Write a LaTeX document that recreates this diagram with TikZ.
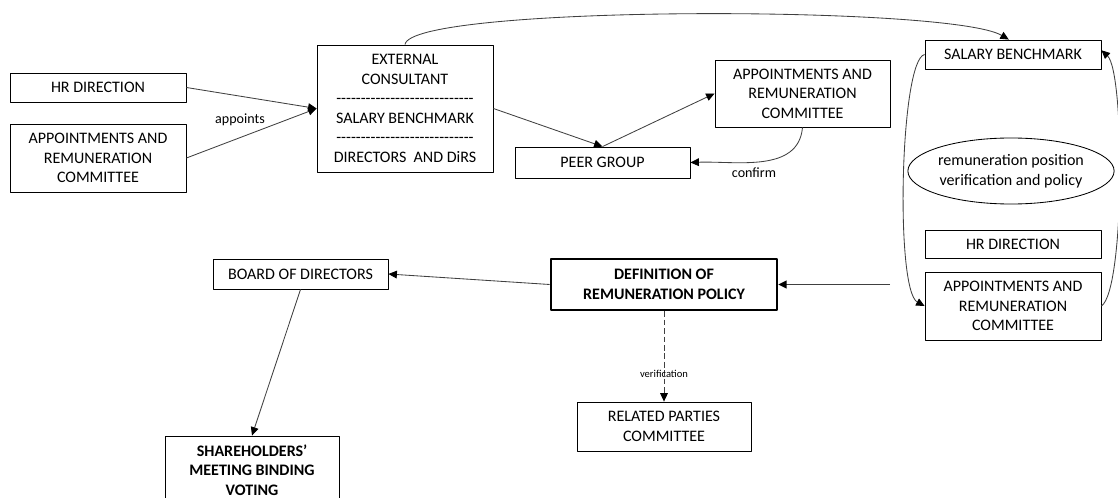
\documentclass[tikz,border=0pt]{standalone}
\usepackage{fontspec}
\setmainfont{Carlito}[Ligatures=TeXOff]
\usepackage{tikz}
\usetikzlibrary{arrows.meta,shapes.geometric}
\definecolor{lnc}{RGB}{64,64,64}

\begin{document}
\begin{tikzpicture}[x=0.025cm,y=-0.025cm,line join=round,
  box/.style={draw,line width=0.6pt,align=center,inner sep=0pt,minimum width=4.4cm,font=\fontsize{11.4}{13.9}\selectfont},
  arr/.style={draw=lnc,line width=0.6pt,-{Triangle[length=6pt,width=5.5pt,color=black]}},
  lbl/.style={font=\fontsize{10}{12}\selectfont}]
  \useasboundingbox (0,0) rectangle (1118,498);
  \node[box,minimum height=0.725cm] (hrL) at (98,87.5) {HR DIRECTION};
  \node[box,minimum height=1.7cm] (arcL) at (98,158) {APPOINTMENTS AND\\REMUNERATION\\COMMITTEE};
  \node[box,minimum height=3.175cm] (econ) at (405,108.5) {EXTERNAL\\CONSULTANT\\----------------------------\\SALARY BENCHMARK\\----------------------------\\DIRECTORS\ \ AND DiRS};
  \node[box,minimum width=4.375cm,minimum height=0.775cm] (peer) at (602.5,162.5) {PEER GROUP};
  \node[box,minimum width=4.375cm,minimum height=1.675cm] (arcM) at (802.5,93.5) {APPOINTMENTS AND\\REMUNERATION\\COMMITTEE};
  \node[box,minimum height=0.725cm] (salR) at (1013,54.5) {SALARY BENCHMARK};
  \node[draw,ellipse,line width=0.6pt,minimum width=4.5cm,minimum height=1.65cm,inner sep=0pt,align=center,font=\fontsize{11.4}{13.9}\selectfont] (pos) at (1011,171) {remuneration position\\verification and policy};
  \node[box,minimum height=0.7cm] (hrR) at (1013,244) {HR DIRECTION};
  \node[box,minimum height=1.7cm] (arcR) at (1013,306) {APPOINTMENTS AND\\REMUNERATION\\COMMITTEE};
  \node[box,line width=1.8pt,minimum width=5.65cm,minimum height=1.275cm,font=\fontsize{11.4}{13.9}\selectfont\bfseries] (def) at (664,284.5) {DEFINITION OF\\REMUNERATION POLICY};
  \node[box,minimum width=4.375cm,minimum height=0.75cm] (board) at (300.5,274) {BOARD OF DIRECTORS};
  \node[box,minimum width=4.35cm,minimum height=1.225cm] (rel) at (664,426.5) {RELATED PARTIES\\COMMITTEE};
  \node[box,minimum width=4.35cm,minimum height=1.7cm,font=\fontsize{11.4}{13.9}\selectfont\bfseries] (share) at (252,470) {SHAREHOLDERS’\\MEETING BINDING\\VOTING};
  \coordinate (feed) at (890,284.5);

  \draw[arr] (hrL.east) -- (econ.west); \draw[arr] (arcL.east) -- (econ.west);
  \node[lbl] (appl) at (240,120) {appoints};
  \draw[arr] (econ.east) -- (peer.north); \draw[arr] (peer.north) -- (arcM.west);
  \draw[arr] (arcM.south) to[out=-95,in=2] (peer.east);
  \node[lbl] (confl) at (754,173) {confirm};
  \draw[arr] (econ.north) .. controls (410,5) and (950,5) .. ([xshift=-3]salR.north);
  \draw[arr] (salR.west) .. controls (900,60) and (895,290) .. (arcR.west);
  \draw[arr] (arcR.east) .. controls (1125,290) and (1125,72) .. ([yshift=3]salR.east);
  \draw[arr,line width=1.3pt] (feed) -- (def.east);
  \draw[arr] (def.west) -- (board.east); \draw[arr] (board.south) -- (share.north);
  \draw[arr,dash pattern=on 4pt off 2pt] (def.south) -- (rel.north);
  \node[font=\fontsize{7.5}{9}\selectfont] (verl) at (664,374) {verification};
\end{tikzpicture}
\end{document}
